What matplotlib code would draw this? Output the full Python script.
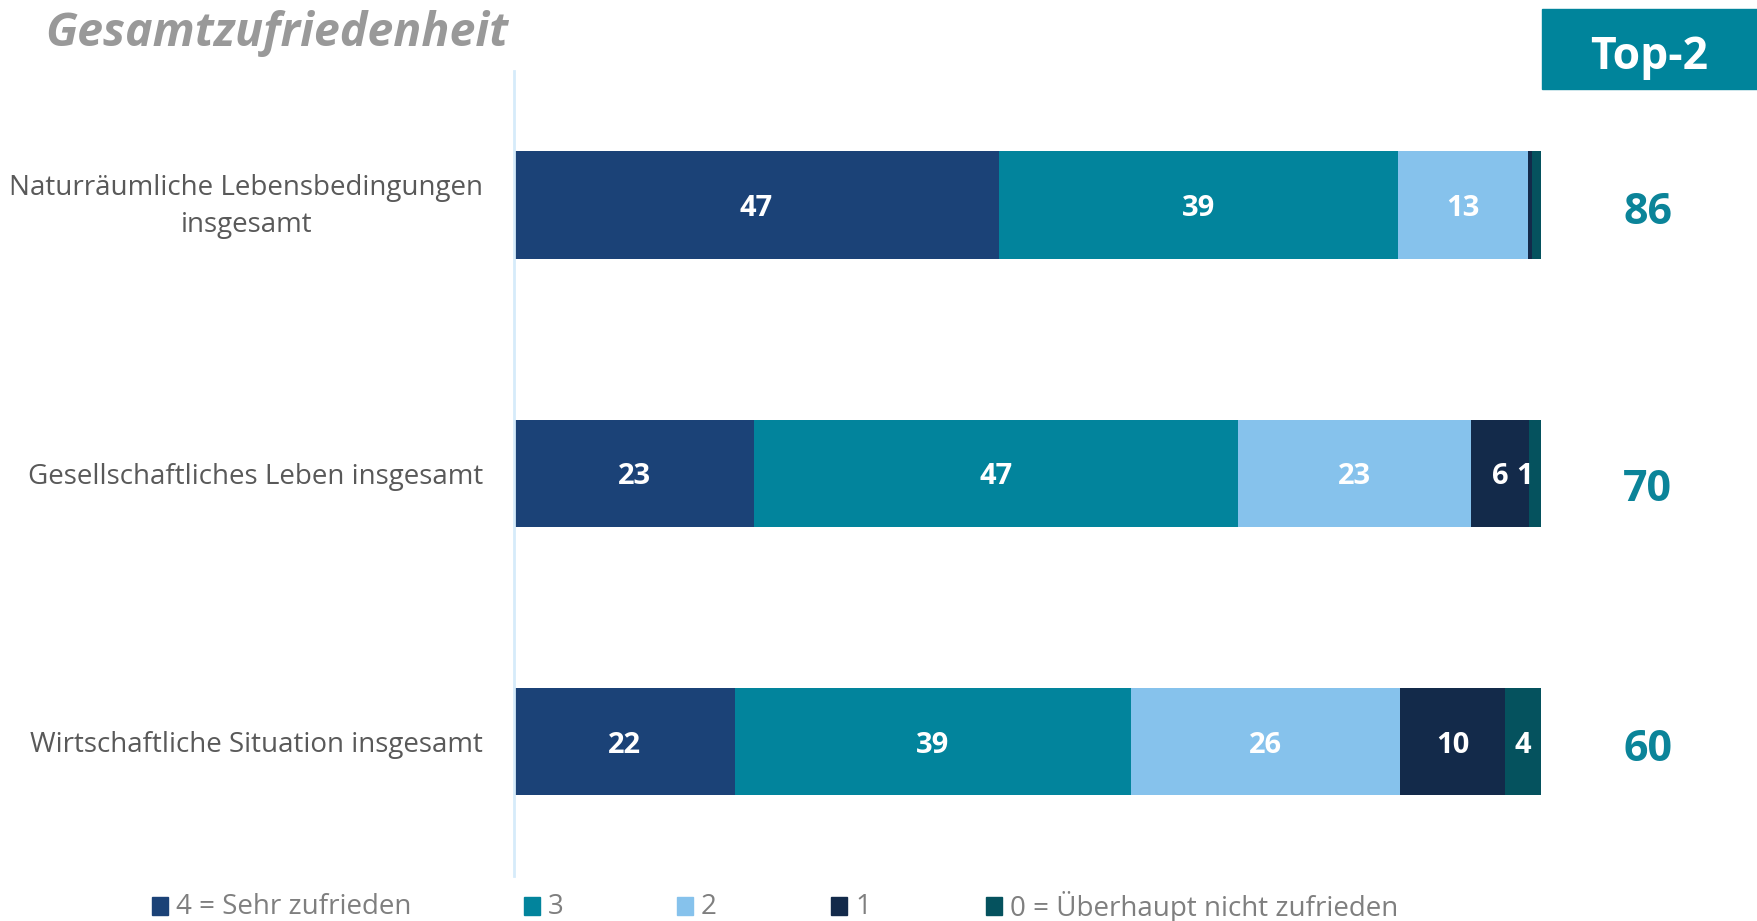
import numpy as np
import matplotlib.pyplot as plt
from matplotlib.patches import Rectangle
from matplotlib.transforms import ScaledTranslation

# Daten (Prozent)
kategorien = ["Naturräumliche Lebensbedingungen\ninsgesamt",
              "Gesellschaftliches Leben insgesamt",
              "Wirtschaftliche Situation insgesamt"]
stufen = ["4 = Sehr zufrieden", "3", "2", "1", "0 = Überhaupt nicht zufrieden"]
werte_4 = [47.2, 23.4, 21.5]
werte_3 = [38.9, 47.1, 38.6]
werte_2 = [12.6, 22.7, 26.2]
werte_1 = [0.4, 5.6, 10.2]
werte_0 = [0.9, 1.3, 3.5]
top2 = [86, 70, 60]

farben = ["#1b4277", "#02849c", "#86c2ec", "#132a4a", "#05525e"]
grau = "#595959"

plt.rcParams['font.family'] = ['Open Sans', 'DejaVu Sans']

fig = plt.figure(figsize=(17.57, 9.21), dpi=100)
ax = fig.add_axes([0.2925, 0.049, 0.5845, 0.874])

y = np.arange(len(kategorien))
links = np.zeros(len(kategorien))
for serie, farbe in zip([werte_4, werte_3, werte_2, werte_1, werte_0], farben):
    serie = np.array(serie)
    ax.barh(y, serie, left=links, height=0.4, color=farbe, edgecolor="none")
    for yi, l, w in zip(y, links, serie):
        if w >= 1:
            # sehr schmale Segmente: Beschriftung etwas nach links schieben
            xpos = l + w / 2 - (1.0 if w < 2 else 0)
            ax.text(xpos, yi, f"{round(w)}", ha="center", va="center_baseline",
                    color="white", fontsize=21, fontweight="bold")
    links += serie

ax.set_xlim(0, 100)
ax.set_ylim(2.5, -0.5)
ax.set_yticks(y)
ax.set_yticklabels(kategorien, fontsize=20, color=grau, multialignment="center",
                   linespacing=1.45)
ax.tick_params(axis="y", length=0, pad=22)
ax.set_xticks([])
for s in ["top", "right", "bottom"]:
    ax.spines[s].set_visible(False)
ax.spines["left"].set_color("#d6ebfa")
ax.spines["left"].set_linewidth(2)

# zweizeilige Beschriftung etwas anheben
lbl = ax.get_yticklabels()[0]
lbl.set_transform(lbl.get_transform() + ScaledTranslation(0, 0.07, fig.dpi_scale_trans))

# Top-2 Spalte
top2_versatz = [0.01, 0.04, 0.01]
for yi, t, dv in zip(y, top2, top2_versatz):
    ax.text(1.104, yi + dv, f"{t}", transform=ax.get_yaxis_transform(),
            ha="center", va="center_baseline", fontsize=31, fontweight="bold",
            color="#0b8499")

fig.patches.append(Rectangle((1542 / 1757, 1 - 89 / 921), 215 / 1757, 80 / 921,
                             transform=fig.transFigure, color="#00849b"))
fig.text(1649 / 1757, 1 - 69 / 921, "Top-2", ha="center", va="baseline",
         fontsize=32, fontweight="bold", color="white")

# Titel
fig.text(45 / 1757, 1 - 46 / 921, "Gesamtzufriedenheit", ha="left", va="baseline",
         fontsize=33.5, fontweight="bold", fontstyle="italic", color="#999999")

# Legende
leg_x = [152, 524, 677, 831, 986]
for lx, name, farbe in zip(leg_x, stufen, farben):
    fig.patches.append(Rectangle((lx / 1757, 1 - 915 / 921), 16 / 1757, 18 / 921,
                                 transform=fig.transFigure, color=farbe))
    fig.text((lx + 24) / 1757, 1 - 907 / 921, name, ha="left", va="center",
             fontsize=20, color="#7f7f7f")

fig.savefig("out.png", dpi=100)
